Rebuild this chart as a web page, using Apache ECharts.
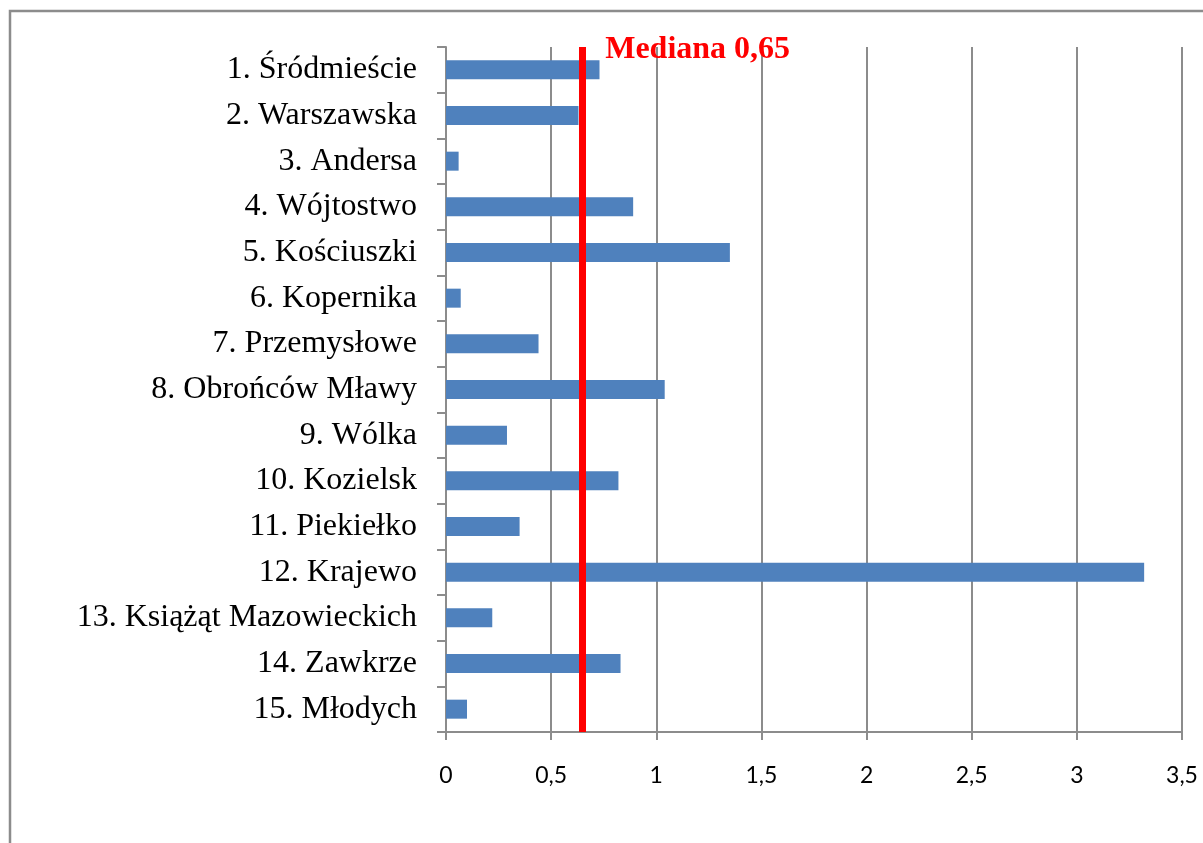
<!DOCTYPE html>
<html>
<head>
<meta charset="utf-8">
<script src="https://cdn.jsdelivr.net/npm/echarts@6/dist/echarts.min.js"></script>
<style>
  html, body { margin: 0; padding: 0; background: #fff; }
  #chart { width: 1203px; height: 843px; }
</style>
</head>
<body>
<div id="chart"></div>
<script>
// dane: osiedla i wartości
const categories = [
    '1. Śródmieście', '2. Warszawska', '3. Andersa', '4. Wójtostwo',
    '5. Kościuszki', '6. Kopernika', '7. Przemysłowe', '8. Obrońców Mławy',
    '9. Wólka', '10. Kozielsk', '11. Piekiełko', '12. Krajewo',
    '13. Książąt Mazowieckich', '14. Zawkrze', '15. Młodych'
];
const values = [0.73, 0.63, 0.06, 0.89, 1.35, 0.07, 0.44, 1.04, 0.29, 0.82, 0.35, 3.32, 0.22, 0.83, 0.10];
const median = 0.65;
const medianLabel = 'Mediana 0,65';
const xTicks = [0, 0.5, 1, 1.5, 2, 2.5, 3, 3.5];

const gray = '#8c8c8c';

const chart = echarts.init(document.getElementById('chart'), null, { renderer: 'canvas' });

chart.setOption({
    animation: false,
    // ramka wokół wykresu
    graphic: [{
        type: 'rect',
        shape: { x: 10, y: 11, width: 1400, height: 1000 },
        style: { fill: 'none', stroke: gray, lineWidth: 2.5 },
        silent: true
    }],
    grid: { left: 446, right: 21, top: 47, bottom: 111, containLabel: false },
    xAxis: {
        type: 'value',
        min: xTicks[0],
        max: xTicks[xTicks.length - 1],
        interval: 0.5,
        axisLine: { show: true, lineStyle: { color: gray, width: 2 } },
        axisTick: { show: true, length: 8, lineStyle: { color: gray, width: 2 } },
        splitLine: { show: true, lineStyle: { color: gray, width: 2 } },
        axisLabel: {
            margin: 32,
            color: '#000',
            fontFamily: 'Lato, "Open Sans", sans-serif',
            fontSize: 23,
            formatter: (v) => String(v).replace('.', ',')
        }
    },
    yAxis: {
        type: 'category',
        inverse: true,
        data: categories,
        axisLine: { show: true, lineStyle: { color: gray, width: 2 } },
        axisTick: { show: true, length: 9, lineStyle: { color: gray, width: 2 } },
        splitLine: { show: false },
        axisLabel: {
            interval: 0,
            margin: 29,
            color: '#000',
            fontFamily: '"Liberation Serif", "Times New Roman", serif',
            fontSize: 32
        }
    },
    series: [{
        type: 'bar',
        data: values,
        barWidth: 19,
        itemStyle: { color: '#4f81bd' },
        markLine: {
            silent: true,
            symbol: 'none',
            label: { show: false },
            lineStyle: { color: '#ff0000', width: 7, type: 'solid' },
            data: [{ xAxis: median }]
        },
        markPoint: {
            silent: true,
            symbol: 'rect',
            symbolSize: 1,
            itemStyle: { color: 'rgba(0,0,0,0)' },
            label: {
                show: true,
                position: [23, -20],
                align: 'left',
                verticalAlign: 'middle',
                formatter: medianLabel,
                color: '#ff0000',
                fontFamily: '"Liberation Serif", "Times New Roman", serif',
                fontWeight: 'bold',
                fontSize: 32
            },
            data: [{ coord: [median, categories[0]] }]
        }
    }]
});
</script>
</body>
</html>
